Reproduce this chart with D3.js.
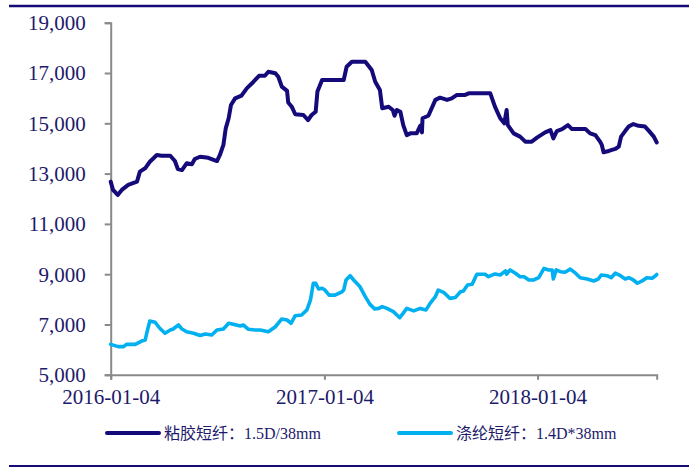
<!DOCTYPE html>
<html>
<head>
<meta charset="utf-8">
<script src="https://cdn.jsdelivr.net/npm/d3@7"></script>
<style>
  body { margin: 0; background: #fff; }
  svg text { font-family: "Liberation Serif", "Times New Roman", "Noto Sans CJK SC", serif; fill: #1d1a6b; }
</style>
</head>
<body>
<div class="home"></div>
<script>
// 粘胶短纤 1.5D/38mm
const viscoseDates = [
  "2016-01-04","2016-01-08","2016-01-16","2016-01-23","2016-02-03","2016-02-18","2016-02-23","2016-03-03",
  "2016-03-11","2016-03-23","2016-03-31","2016-04-15","2016-04-23","2016-04-28","2016-05-05","2016-05-13",
  "2016-05-22","2016-05-27","2016-06-05","2016-06-19","2016-07-04","2016-07-09","2016-07-15","2016-07-19",
  "2016-07-24","2016-07-28","2016-08-04","2016-08-15","2016-08-24","2016-09-02","2016-09-14","2016-09-24",
  "2016-09-30","2016-10-12","2016-10-17","2016-10-23","2016-11-01","2016-11-03","2016-11-09","2016-11-15",
  "2016-11-29","2016-12-07","2016-12-13","2016-12-20","2016-12-23","2016-12-31","2017-02-06","2017-02-11",
  "2017-02-20","2017-03-15","2017-03-26","2017-04-01","2017-04-09","2017-04-13","2017-04-24","2017-05-01",
  "2017-05-04","2017-05-08","2017-05-14","2017-05-19","2017-05-25","2017-05-31","2017-06-11","2017-06-17",
  "2017-06-20","2017-06-21","2017-07-01","2017-07-13","2017-07-21","2017-08-02","2017-08-10","2017-08-19",
  "2017-09-02","2017-09-08","2017-09-25","2017-10-15","2017-10-23","2017-11-01","2017-11-08","2017-11-12",
  "2017-11-14","2017-11-18","2017-11-24","2017-12-05","2017-12-14","2017-12-25","2018-01-03","2018-01-17",
  "2018-01-26","2018-01-31","2018-02-06","2018-02-15","2018-02-25","2018-03-04","2018-03-27","2018-04-04",
  "2018-04-13","2018-04-21","2018-04-24","2018-04-27","2018-05-06","2018-05-17","2018-05-23","2018-05-27",
  "2018-06-03","2018-06-09","2018-06-17","2018-06-26","2018-07-07","2018-07-14","2018-07-22","2018-07-27"
];
const viscoseValues = [
  12680,12350,12150,12350,12550,12680,13080,13210,
  13470,13740,13710,13710,13500,13180,13140,13410,
  13370,13580,13670,13630,13500,13740,14140,14800,
  15200,15730,15990,16100,16390,16590,16890,16890,
  17050,16990,16850,16460,16290,15830,15660,15360,
  15330,15130,15330,15460,16260,16720,16720,17250,
  17450,17450,17120,16650,16320,15600,15660,15530,
  15300,15530,15460,14930,14530,14600,14600,14900,
  14640,15200,15300,15930,16020,15930,15990,16130,
  16130,16190,16190,16190,15660,15200,15000,15530,
  14930,14800,14600,14470,14270,14270,14430,14640,
  14730,14400,14690,14770,14930,14770,14770,14600,
  14530,14270,14140,13850,13900,13980,14070,14470,
  14690,14870,14970,14900,14870,14690,14470,14240
];

// 涤纶短纤 1.4D*38mm
const polyesterDates = [
  "2016-01-04","2016-01-17","2016-01-26","2016-01-31","2016-02-15","2016-02-26","2016-03-03","2016-03-07",
  "2016-03-11","2016-03-20","2016-03-28","2016-04-06","2016-04-15","2016-04-20","2016-04-29","2016-05-05",
  "2016-05-13","2016-05-25","2016-06-05","2016-06-14","2016-06-25","2016-07-04","2016-07-15","2016-07-24",
  "2016-08-01","2016-08-13","2016-08-18","2016-08-27","2016-09-07","2016-09-16","2016-09-30","2016-10-12",
  "2016-10-23","2016-11-01","2016-11-08","2016-11-15","2016-11-26","2016-12-05","2016-12-11","2016-12-16",
  "2016-12-20","2016-12-25","2016-12-31","2017-01-05","2017-01-12","2017-01-22","2017-02-03","2017-02-06",
  "2017-02-10","2017-02-17","2017-02-23","2017-03-06","2017-03-15","2017-03-23","2017-03-31","2017-04-07",
  "2017-04-13","2017-04-21","2017-05-02","2017-05-13","2017-05-19","2017-05-25","2017-06-06","2017-06-17",
  "2017-06-27","2017-07-04","2017-07-13","2017-07-18","2017-07-27","2017-08-07","2017-08-16","2017-08-25",
  "2017-08-30","2017-09-06","2017-09-14","2017-09-22","2017-10-06","2017-10-12","2017-10-23","2017-11-01",
  "2017-11-10","2017-11-12","2017-11-18","2017-11-27","2017-12-05","2017-12-12","2017-12-20","2017-12-28",
  "2018-01-06","2018-01-15","2018-01-23","2018-01-29","2018-01-31","2018-02-05","2018-02-12","2018-02-20",
  "2018-03-01","2018-03-10","2018-03-18","2018-03-30","2018-04-10","2018-04-18","2018-04-23","2018-05-03",
  "2018-05-10","2018-05-17","2018-05-26","2018-06-03","2018-06-09","2018-06-17","2018-06-24","2018-07-02",
  "2018-07-10","2018-07-19","2018-07-25","2018-07-27"
];
const polyesterValues = [
  6210,6120,6120,6210,6210,6340,6380,6780,
  7140,7090,6850,6650,6780,6820,6980,6820,
  6710,6650,6560,6620,6580,6780,6820,7050,
  7010,6940,6980,6810,6780,6780,6710,6910,
  7220,7180,7050,7350,7380,7580,7970,8640,
  8640,8410,8440,8370,8170,8170,8300,8370,
  8770,8940,8770,8500,8110,7800,7620,7640,
  7710,7640,7510,7270,7450,7640,7540,7640,
  7580,7840,8110,8370,8280,8040,8070,8300,
  8330,8570,8600,9000,9000,8900,9010,8970,
  9130,9000,9170,9040,8900,8900,8770,8770,
  8860,9230,9170,9170,8810,9170,9100,9080,
  9200,9040,8860,8810,8730,8810,8970,8940,
  8860,9040,8940,8810,8860,8770,8640,8730,
  8860,8840,8940,8990
];

const yTicks = [5000, 7000, 9000, 11000, 13000, 15000, 17000, 19000];
const xTicks = ["2016-01-04", "2017-01-04", "2018-01-04"];
const seriesNames = ["粘胶短纤：1.5D/38mm", "涤纶短纤：1.4D*38mm"];
const seriesColors = ["#140a7a", "#00b0f0"];

const width = 696;
const height = 468;
const parse = d3.timeParse("%Y-%m-%d");

const svg = d3.select(".home").append("svg")
  .attr("width", width)
  .attr("height", height);

// frame rules top and bottom
svg.append("line").attr("x1", 9).attr("x2", 689).attr("y1", 6).attr("y2", 6)
  .style("stroke", "#140a7a").style("stroke-width", 2.6);
svg.append("line").attr("x1", 9).attr("x2", 689).attr("y1", 466).attr("y2", 466)
  .style("stroke", "#140a7a").style("stroke-width", 2.2);

const x = d3.scaleTime()
  .domain([parse("2016-01-04"), parse("2018-07-27")])
  .range([110.7, 656.7]);
const y = d3.scaleLinear()
  .domain([5000, 19000])
  .range([374.8, 22.7]);

// axes
const yAxis = svg.append("g").attr("transform", "translate(110.7,0)")
  .call(d3.axisLeft(y).tickValues(yTicks).tickSize(6).tickPadding(19)
    .tickFormat(d3.format(",")));
const xAxis = svg.append("g").attr("transform", "translate(0,374.8)")
  .call(d3.axisBottom(x).tickValues(xTicks.map(parse)).tickSize(5).tickPadding(9)
    .tickFormat(d3.timeFormat("%Y-%m-%d")));

[yAxis, xAxis].forEach(function (g) {
  g.select(".domain").style("stroke", "#898989").style("stroke-width", 2);
  g.selectAll(".tick line").style("stroke", "#898989").style("stroke-width", 2);
  g.selectAll("text").style("font-size", "21px").style("fill", "#1d1a6b")
    .style("font-family", "'Liberation Serif', 'Times New Roman', serif");
});
yAxis.selectAll("text").attr("dy", "0.33em");
xAxis.selectAll("text").attr("dy", "0.72em");

// lines
const line = d3.line()
  .x(function (d) { return x(d.date); })
  .y(function (d) { return y(d.value); })
  .curve(d3.curveLinear);

const series = [
  viscoseDates.map(function (d, i) { return { date: parse(d), value: viscoseValues[i] }; }),
  polyesterDates.map(function (d, i) { return { date: parse(d), value: polyesterValues[i] }; })
];

svg.selectAll(".series")
  .data(series)
  .enter()
  .append("path")
  .attr("class", "series")
  .attr("d", line)
  .style("fill", "none")
  .style("stroke", function (d, i) { return seriesColors[i]; })
  .style("stroke-width", function (d, i) { return i === 0 ? 4 : 3.6; })
  .style("stroke-linejoin", "round")
  .style("stroke-linecap", "round");

// legend
const legendX = [107, 399];
const legend = svg.selectAll(".legend")
  .data(seriesNames)
  .enter()
  .append("g")
  .attr("class", "legend")
  .attr("transform", function (d, i) { return "translate(" + legendX[i] + ",433)"; });
legend.append("line")
  .attr("x1", 0).attr("x2", 52).attr("y1", 0).attr("y2", 0)
  .style("stroke", function (d, i) { return seriesColors[i]; })
  .style("stroke-width", 4)
  .style("stroke-linecap", "round");
legend.append("text")
  .attr("x", 57)
  .attr("dy", "0.35em")
  .style("font-size", "16px")
  .text(function (d) { return d; });
</script>
</body>
</html>
